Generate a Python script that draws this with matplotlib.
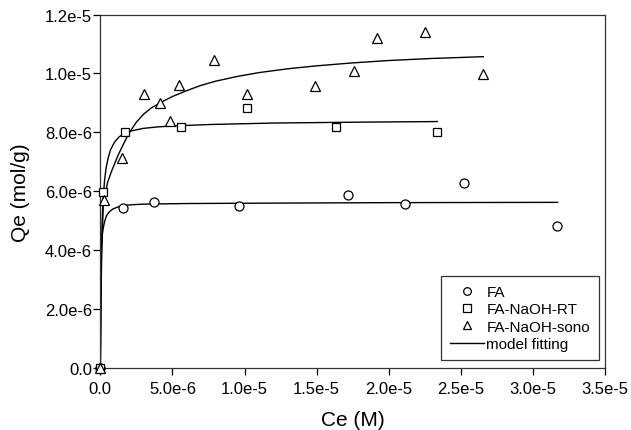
import matplotlib
matplotlib.use('Agg')
import matplotlib.pyplot as plt
from matplotlib.ticker import FuncFormatter, MultipleLocator

plt.rcParams['font.family'] = ['Liberation Sans', 'DejaVu Sans']

# ── Data ──────────────────────────────────────────────────────
fa_x = [0, 1.58e-6, 3.71e-6, 9.63e-6, 1.719e-5, 2.112e-5, 2.523e-5, 3.168e-5]
fa_y = [0, 5.44e-6, 5.65e-6, 5.52e-6, 5.89e-6, 5.58e-6, 6.30e-6, 4.82e-6]

rt_x = [0, 1.9e-7, 1.70e-6, 5.58e-6, 1.014e-5, 1.631e-5, 2.331e-5]
rt_y = [0, 5.99e-6, 8.01e-6, 8.18e-6, 8.82e-6, 8.20e-6, 8.01e-6]

sono_x = [0, 2.4e-7, 1.49e-6, 3.02e-6, 4.17e-6, 4.82e-6, 5.44e-6, 7.85e-6,
          1.016e-5, 1.488e-5, 1.760e-5, 1.917e-5, 2.250e-5, 2.650e-5]
sono_y = [0, 5.71e-6, 7.14e-6, 9.29e-6, 8.99e-6, 8.39e-6, 9.61e-6, 1.047e-5,
          9.29e-6, 9.57e-6, 1.010e-5, 1.120e-5, 1.140e-5, 9.99e-6]

# model fitting curves
fa_fit_x = [0, 1e-8, 2e-8, 4e-8, 6e-8, 8e-8, 1.2e-7, 1.9e-7, 3e-7, 4.3e-7, 6e-7,
            8.9e-7, 1.2e-6, 1.58e-6, 2.2e-6, 3e-6, 4.5e-6, 6e-6, 1e-5, 2e-5, 3.17e-5]
fa_fit_y = [0, 1.0e-6, 1.9e-6, 3.0e-6, 3.7e-6, 4.16e-6, 4.45e-6, 4.73e-6, 4.98e-6,
            5.18e-6, 5.30e-6, 5.41e-6, 5.47e-6, 5.52e-6, 5.55e-6, 5.57e-6, 5.58e-6,
            5.59e-6, 5.60e-6, 5.62e-6, 5.63e-6]

rt_fit_x = [0, 3e-8, 6e-8, 1e-7, 1.5e-7, 2e-7, 3e-7, 4e-7, 5.5e-7, 7e-7, 8.5e-7,
            1.0e-6, 1.3e-6, 1.7e-6, 2.2e-6, 3e-6, 4e-6, 5e-6, 7.6e-6, 1.2e-5,
            1.8e-5, 2.336e-5]
rt_fit_y = [0, 2.0e-6, 3.4e-6, 4.5e-6, 5.3e-6, 5.8e-6, 6.4e-6, 6.8e-6, 7.15e-6,
            7.4e-6, 7.55e-6, 7.68e-6, 7.85e-6, 7.97e-6, 8.06e-6, 8.14e-6, 8.19e-6,
            8.22e-6, 8.27e-6, 8.32e-6, 8.35e-6, 8.37e-6]

sono_fit_x = [0, 5e-8, 1e-7, 2e-7, 3.5e-7, 5e-7, 7.5e-7, 1.0e-6, 1.25e-6, 1.5e-6,
              1.75e-6, 2.0e-6, 2.5e-6, 3.0e-6, 3.5e-6, 4.2e-6, 5e-6, 6e-6, 7e-6,
              8e-6, 9.5e-6, 1.1e-5, 1.3e-5, 1.5e-5, 1.75e-5, 2.0e-5, 2.3e-5, 2.655e-5]
sono_fit_y = [0, 2.5e-6, 4.0e-6, 5.5e-6, 5.95e-6, 6.3e-6, 6.65e-6, 6.95e-6, 7.25e-6,
              7.5e-6, 7.75e-6, 7.98e-6, 8.35e-6, 8.62e-6, 8.82e-6, 9.02e-6, 9.22e-6,
              9.42e-6, 9.6e-6, 9.74e-6, 9.9e-6, 1.003e-5, 1.016e-5, 1.026e-5,
              1.036e-5, 1.044e-5, 1.051e-5, 1.057e-5]


def sci(v, pos):
    if abs(v) < 1e-12:
        return '0.0'
    m, e = f'{v:.1e}'.split('e')
    return f'{m}e{int(e)}'


# ── Plot ──────────────────────────────────────────────────────
fig = plt.figure(figsize=(6.31, 4.31), dpi=100)
ax = fig.add_axes([0.159, 0.143, 0.800, 0.821])

mk = dict(ls='none', mfc='white', mec='black', mew=0.9, clip_on=False, zorder=3)
ax.plot(fa_x, fa_y, marker='o', ms=6.5, label='FA', **mk)
ax.plot(rt_x, rt_y, marker='s', ms=5.5, label='FA-NaOH-RT', **mk)
ax.plot(sono_x, sono_y, marker='^', ms=6.5, label='FA-NaOH-sono', **mk)

ax.plot(fa_fit_x, fa_fit_y, color='black', lw=1.0, label='model fitting')
ax.plot(rt_fit_x, rt_fit_y, color='black', lw=1.0)
ax.plot(sono_fit_x, sono_fit_y, color='black', lw=1.0)

ax.set_xlim(0, 3.5e-5)
ax.set_ylim(0, 1.2e-5)
ax.xaxis.set_major_locator(MultipleLocator(5e-6))
ax.yaxis.set_major_locator(MultipleLocator(2e-6))
ax.xaxis.set_major_formatter(FuncFormatter(sci))
ax.yaxis.set_major_formatter(FuncFormatter(sci))
ax.tick_params(direction='out', length=5, width=0.9, labelsize=12,
               top=False, right=False)
ax.tick_params(axis='x', pad=4)
ax.tick_params(axis='y', pad=1)
for s in ax.spines.values():
    s.set_linewidth(0.9)
    s.set_color('#333333')

ax.set_xlabel('Ce (M)', fontsize=15, labelpad=10)
ax.set_ylabel('Qe (mol/g)', fontsize=15, labelpad=11)

leg = ax.legend(loc='lower right', bbox_to_anchor=(0.988, 0.023), fontsize=11,
                frameon=True, fancybox=False, edgecolor='black', borderpad=0.6,
                handlelength=2.2, handletextpad=0.15, labelspacing=0.22,
                borderaxespad=0)
leg.get_frame().set_linewidth(0.9)
for h in leg.legend_handles[:3]:
    h.set_markersize(5.5)

fig.savefig('out.png', dpi=100)
